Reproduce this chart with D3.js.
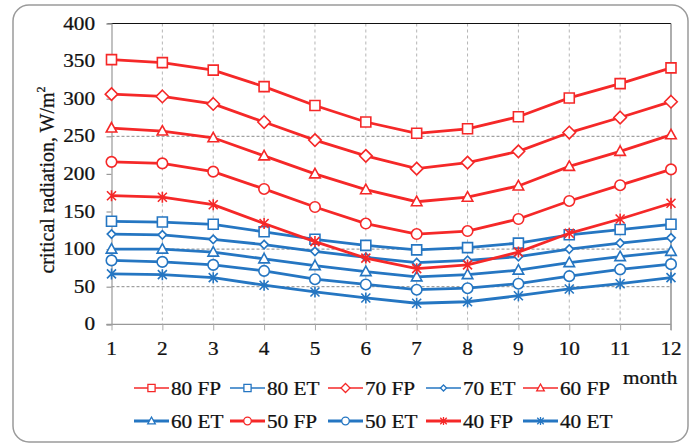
<!DOCTYPE html>
<html><head><meta charset="utf-8">
<script src="https://cdn.jsdelivr.net/npm/d3@7"></script>
<style>body{margin:0;background:#fff;} svg{display:block;}</style>
</head><body>
<svg id="chart" width="691" height="445"></svg>
<script>
const months = [1,2,3,4,5,6,7,8,9,10,11,12];
const yTicks = [0,50,100,150,200,250,300,350,400];
const gridValues = [50,100,250];
const seriesNames = ["80 FP","80 ET","70 FP","70 ET","60 FP","60 ET","50 FP","50 ET","40 FP","40 ET"];
const fp80 = [352,348,338,316,291,269,254,260,276,301,320,341];
const et80 = [137,136,133,123,113,105,99,102,108,119,126,133];
const fp70 = [306,303,293,269,245,224,207,215,230,255,275,296];
const et70 = [120,119,113,106,97,89,82,85,90,100,108,115];
const fp60 = [261,257,248,224,200,179,163,169,184,210,230,252];
const et60 = [100,100,96,87,78,70,63,66,72,82,90,97];
const fp50 = [216,214,203,180,156,134,120,124,140,164,185,206];
const et50 = [85,83,79,71,60,53,46,48,54,64,73,80];
const fp40 = [171,169,159,134,110,88,74,79,96,121,140,161];
const et40 = [67,66,62,52,43,35,28,30,38,47,54,62];
const seriesValues = [fp80,et80,fp70,et70,fp60,et60,fp50,et50,fp40,et40];
const seriesMarkers = ["square","square","diamond","diamondSmall","triangle","triangle","circle","circle","star","star"];

const RED = "#f52828", BLUE = "#2576c2";
const svg = d3.select("#chart");
const x = d3.scaleLinear().domain([1,12]).range([111.5,671]);
const y = d3.scaleLinear().domain([0,400]).range([324.3,23.5]);
const SX = 1.18;
const FONT = '"Liberation Serif"';

function txt(g, tx, ty, s, anchor, size){
  return g.append("text").attr("transform",`translate(${tx},${ty}) scale(${SX},1)`)
    .attr("text-anchor",anchor||"start").style("font-family",FONT)
    .attr("font-size",size||18).attr("fill","#111").attr("stroke","#111").attr("stroke-width",0.25).text(s);
}

// outer rounded frame
svg.append("rect").attr("x",13).attr("y",5).attr("width",675).attr("height",437)
  .attr("rx",16).attr("fill","none").attr("stroke","#9a9a9a").attr("stroke-width",1.5);

// grid
const grid = svg.append("g");
grid.selectAll("line.v").data(months.slice(1,11)).join("line")
  .attr("x1",d=>x(d)).attr("x2",d=>x(d)).attr("y1",y(400)).attr("y2",y(0))
  .attr("stroke","#b5b5b5").attr("stroke-width",1).attr("stroke-dasharray","3,3");
grid.selectAll("line.h").data(gridValues).join("line")
  .attr("x1",x(1)).attr("x2",x(12)).attr("y1",d=>y(d)).attr("y2",d=>y(d))
  .attr("stroke","#8a8a8a").attr("stroke-width",1).attr("stroke-dasharray","3,2");

// frame
svg.append("line").attr("x1",x(1)-4).attr("x2",x(12)).attr("y1",y(400)).attr("y2",y(400)).attr("stroke","#111").attr("stroke-width",1.2);
svg.append("line").attr("x1",x(12)).attr("x2",x(12)).attr("y1",y(400)).attr("y2",y(0)+6).attr("stroke","#777").attr("stroke-width",1.2);

// y axis
const yAxis = svg.append("g").attr("transform",`translate(${x(1)},0)`)
  .call(d3.axisLeft(y).tickValues(yTicks).tickSize(5).tickFormat(""));
yAxis.selectAll("path,line").attr("stroke","#999").attr("stroke-width",1.2);
yTicks.forEach(v=>txt(svg,95,y(v)+6,String(v),"end",18));

// x axis
const xAxis = svg.append("g").attr("transform",`translate(0,${y(0)})`)
  .call(d3.axisBottom(x).tickValues(months).tickSize(6).tickFormat(""));
xAxis.select("path").attr("stroke","#999").attr("stroke-width",1.2).attr("d",`M${x(1)-5},0H${x(12)}`);
xAxis.selectAll("line").attr("stroke","#aaa").attr("stroke-width",1);
months.forEach(m=>txt(svg,x(m),355,String(m),"middle",18));

// y title
const yt = svg.append("text").attr("transform","translate(54,180) rotate(-90) scale(1,1.1)")
  .attr("text-anchor","middle").style("font-family",FONT).attr("font-size",20)
  .attr("fill","#111").attr("stroke","#111").attr("stroke-width",0.25);
yt.append("tspan").text("critical radiation, W/m");
yt.append("tspan").attr("font-size",12).attr("dy",-8).text("2");

// markers
function markerPath(type, s){
  if(type==="square") return `M${-s},${-s}H${s}V${s}H${-s}Z`;
  if(type==="diamond") return `M0,${-s*1.25}L${s*1.25},0L0,${s*1.25}L${-s*1.25},0Z`;
  if(type==="diamondSmall") return `M0,${-s*0.85}L${s*0.85},0L0,${s*0.85}L${-s*0.85},0Z`;
  if(type==="triangle") return `M0,${-s*1.1}L${s*1.05},${s*0.8}L${-s*1.05},${s*0.8}Z`;
  if(type==="star") { const a=s*0.9; return `M0,${-s*1.1}V${s*1.1}M${-a},${-a}L${a},${a}M${-a},${a}L${a},${-a}`; }
  return "";
}
function drawMarker(g, type, cx, cy, s, color, sw){
  if(type==="circle"){
    g.append("circle").attr("cx",cx).attr("cy",cy).attr("r",s*1.05).attr("fill","#fff").attr("stroke",color).attr("stroke-width",sw);
  } else {
    g.append("path").attr("transform",`translate(${cx},${cy})`).attr("d",markerPath(type,s))
      .attr("fill",type==="star"?"none":"#fff").attr("stroke",color).attr("stroke-width",sw);
  }
}

const line = d3.line().x((d,i)=>x(months[i])).y(d=>y(d));
seriesValues.forEach((vals,k)=>{
  const color = seriesNames[k].includes("FP") ? RED : BLUE;
  const g = svg.append("g");
  g.append("path").attr("d",line(vals)).attr("fill","none").attr("stroke",color).attr("stroke-width",2.8);
  vals.forEach((v,i)=>drawMarker(g,seriesMarkers[k],x(months[i]),y(v),5,color,1.6));
});

// legend
const legX = [134,230,328,426,523];
const legY = [388,421];
const leg = svg.append("g");
seriesNames.forEach((name,k)=>{
  const row = Math.floor(k/5), col = k%5;
  const lx = legX[col], ly = legY[row];
  const color = name.includes("FP") ? RED : BLUE;
  leg.append("line").attr("x1",lx).attr("x2",lx+35).attr("y1",ly).attr("y2",ly)
    .attr("stroke",color).attr("stroke-width",row===0?1.6:3);
  drawMarker(leg,seriesMarkers[k],lx+17.5,ly,3.6,color,1.3);
  txt(leg,lx+37,ly+6.5,name,"start",18);
});
txt(svg,623,384,"month","start",18);
</script>
</body></html>
